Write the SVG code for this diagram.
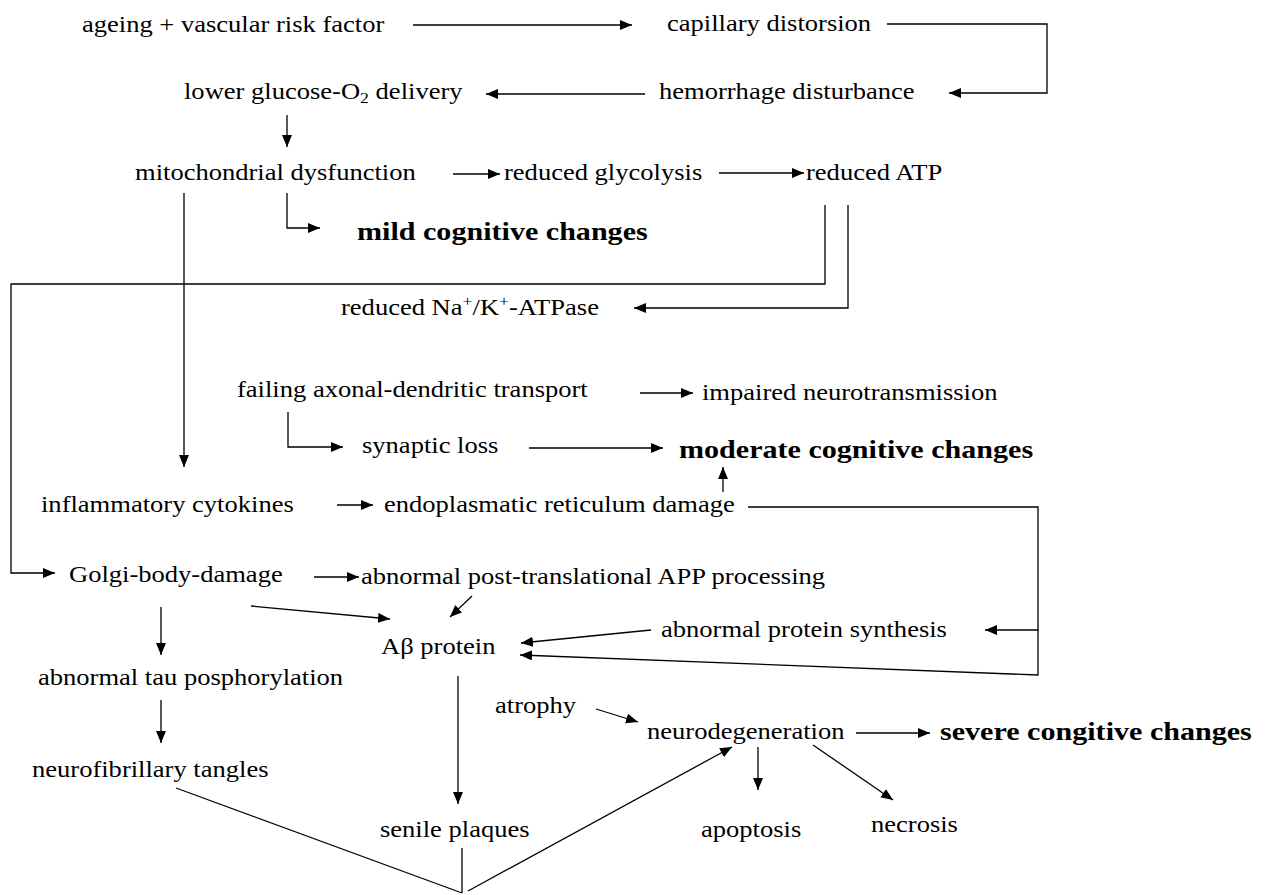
<svg xmlns="http://www.w3.org/2000/svg" width="1268" height="895" viewBox="0 0 1268 895">
<defs>
<marker id="ah" markerUnits="userSpaceOnUse" markerWidth="13" markerHeight="11" refX="12" refY="5" orient="auto">
<path d="M0,0 L12,5 L0,10 z" fill="#000"/>
</marker>
<style>
text{font-family:"Liberation Serif","Times New Roman",serif;font-size:22.5px;fill:#000}
.b{font-weight:bold;font-size:25.5px}
.c{fill:none;stroke:#000;stroke-width:1.3}
.a{marker-end:url(#ah)}
</style>
</defs>
<rect width="1268" height="895" fill="#fff"/>
<g id="connectors">
<path class="c a" d="M413,25 H632"/>
<path class="c a" d="M887,24 H1047 V93 H949"/>
<path class="c a" d="M645,94 H486"/>
<path class="c a" d="M287,115 V147"/>
<path class="c a" d="M453,174 H500"/>
<path class="c a" d="M719,173 H804"/>
<path class="c a" d="M287,193 V228 H320"/>
<path class="c a" d="M184,193 V467"/>
<path class="c a" d="M825,205 V284 H11 V573 H55"/>
<path class="c a" d="M848,205 V308 H634"/>
<path class="c a" d="M640,393 H693"/>
<path class="c a" d="M288,412 V447 H343"/>
<path class="c a" d="M529,448 H663"/>
<path class="c a" d="M723,492 V467"/>
<path class="c a" d="M337,505 H373"/>
<path class="c a" d="M748,507 H1038 V630 H985"/>
<path class="c a" d="M1038,630 V675 L520,655"/>
<path class="c a" d="M314,577 H359"/>
<path class="c a" d="M251,606 L390,619"/>
<path class="c a" d="M472,596 L450,617"/>
<path class="c a" d="M651,630 L521,643"/>
<path class="c a" d="M161,607 V655"/>
<path class="c a" d="M161,700 V743"/>
<path class="c a" d="M458,676 V804"/>
<path class="c a" d="M596,709 L638,722"/>
<path class="c a" d="M856,733 H930"/>
<path class="c a" d="M758,747 V790"/>
<path class="c a" d="M813,745 L893,800"/>
<path class="c" d="M176,788 L462,893"/>
<path class="c" d="M462,848 V893"/>
<path class="c a" d="M468,891 L732,747"/>
</g>
<g id="n-ageing"><text transform="translate(82,31.5) scale(1.18,1)">ageing + vascular risk factor</text></g>
<g id="n-capillary"><text transform="translate(667,30.5) scale(1.18,1)">capillary distorsion</text></g>
<g id="n-glucose"><text transform="translate(184,98.5) scale(1.18,1)">lower glucose-O<tspan font-size="15" dy="4">2</tspan><tspan dy="-4"> delivery</tspan></text></g>
<g id="n-hemorrhage"><text transform="translate(659,98.5) scale(1.18,1)">hemorrhage disturbance</text></g>
<g id="n-mito"><text transform="translate(135,179.5) scale(1.18,1)">mitochondrial dysfunction</text></g>
<g id="n-glycolysis"><text transform="translate(504,179.5) scale(1.18,1)">reduced glycolysis</text></g>
<g id="n-atp"><text transform="translate(806,179.5) scale(1.18,1)">reduced ATP</text></g>
<g id="n-mild"><text class="b" transform="translate(357,240) scale(1.18,1)">mild cognitive changes</text></g>
<g id="n-nak"><text transform="translate(341,314.5) scale(1.18,1)">reduced Na<tspan font-size="15" dy="-9">+</tspan><tspan dy="9">/K</tspan><tspan font-size="15" dy="-9">+</tspan><tspan dy="9">-ATPase</tspan></text></g>
<g id="n-failing"><text transform="translate(237,396.5) scale(1.18,1)">failing axonal-dendritic transport</text></g>
<g id="n-impaired"><text transform="translate(702,399.5) scale(1.18,1)">impaired neurotransmission</text></g>
<g id="n-synaptic"><text transform="translate(362,452.5) scale(1.18,1)">synaptic loss</text></g>
<g id="n-moderate"><text class="b" transform="translate(679,458) scale(1.18,1)">moderate cognitive changes</text></g>
<g id="n-inflammatory"><text transform="translate(41,511.5) scale(1.18,1)">inflammatory cytokines</text></g>
<g id="n-er"><text transform="translate(384,511.5) scale(1.18,1)">endoplasmatic reticulum damage</text></g>
<g id="n-golgi"><text transform="translate(69,581.5) scale(1.18,1)">Golgi-body-damage</text></g>
<g id="n-app"><text transform="translate(361,583.5) scale(1.18,1)">abnormal post-translational APP processing</text></g>
<g id="n-synthesis"><text transform="translate(661,636.5) scale(1.18,1)">abnormal protein synthesis</text></g>
<g id="n-abeta"><text transform="translate(381,653.5) scale(1.18,1)">Aβ protein</text></g>
<g id="n-tau"><text transform="translate(38,684.5) scale(1.18,1)">abnormal tau posphorylation</text></g>
<g id="n-atrophy"><text transform="translate(495,712.5) scale(1.18,1)">atrophy</text></g>
<g id="n-neurodeg"><text transform="translate(647,738.5) scale(1.18,1)">neurodegeneration</text></g>
<g id="n-severe"><text class="b" transform="translate(940,740) scale(1.18,1)">severe congitive changes</text></g>
<g id="n-tangles"><text transform="translate(32,776.5) scale(1.18,1)">neurofibrillary tangles</text></g>
<g id="n-plaques"><text transform="translate(380,836.5) scale(1.18,1)">senile plaques</text></g>
<g id="n-apoptosis"><text transform="translate(701,836.5) scale(1.18,1)">apoptosis</text></g>
<g id="n-necrosis"><text transform="translate(871,831.5) scale(1.18,1)">necrosis</text></g>
</svg>
